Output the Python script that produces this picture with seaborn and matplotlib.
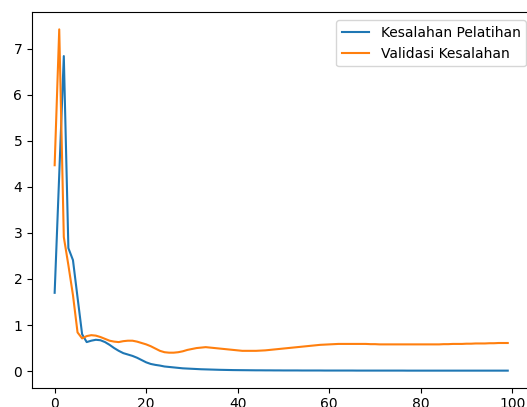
import matplotlib
matplotlib.use("Agg")
import matplotlib.pyplot as plt
import seaborn as sns
import numpy as np
import pandas as pd

epochs = list(range(100))

train_loss = [
    1.70, 4.27, 6.84, 2.67, 2.41, 1.60, 0.80, 0.63, 0.66, 0.68,
    0.67, 0.63, 0.57, 0.50, 0.44, 0.39, 0.36, 0.33, 0.29, 0.24,
    0.19, 0.155, 0.135, 0.12, 0.10, 0.09, 0.08, 0.07, 0.06, 0.055,
    0.05, 0.045, 0.04, 0.037, 0.034, 0.031, 0.028, 0.026, 0.024, 0.022,
    0.021, 0.020, 0.019, 0.018, 0.017, 0.017, 0.016, 0.016, 0.015, 0.015,
    0.014, 0.014, 0.014, 0.014, 0.013, 0.013, 0.013, 0.013, 0.013, 0.012,
    0.012, 0.012, 0.012, 0.012, 0.012, 0.012, 0.011, 0.011, 0.011, 0.011,
    0.011, 0.011, 0.011, 0.011, 0.011, 0.011, 0.011, 0.010, 0.010, 0.010,
    0.010, 0.010, 0.010, 0.010, 0.010, 0.010, 0.010, 0.010, 0.010, 0.010,
    0.010, 0.010, 0.010, 0.010, 0.010, 0.010, 0.010, 0.010, 0.010, 0.010,
]

val_loss = [
    4.47, 7.42, 2.91, 2.30, 1.65, 0.84, 0.71, 0.76, 0.78, 0.77,
    0.74, 0.70, 0.66, 0.64, 0.63, 0.65, 0.66, 0.66, 0.64, 0.61,
    0.58, 0.54, 0.49, 0.44, 0.41, 0.40, 0.40, 0.41, 0.43, 0.46,
    0.48, 0.50, 0.51, 0.52, 0.51, 0.50, 0.49, 0.48, 0.47, 0.46,
    0.45, 0.44, 0.44, 0.44, 0.44, 0.445, 0.45, 0.46, 0.47, 0.48,
    0.49, 0.50, 0.51, 0.52, 0.53, 0.54, 0.55, 0.56, 0.57, 0.575,
    0.58, 0.585, 0.59, 0.59, 0.59, 0.59, 0.59, 0.59, 0.59, 0.585,
    0.585, 0.58, 0.58, 0.58, 0.58, 0.58, 0.58, 0.58, 0.58, 0.58,
    0.58, 0.58, 0.58, 0.58, 0.58, 0.585, 0.585, 0.59, 0.59, 0.59,
    0.595, 0.595, 0.60, 0.60, 0.60, 0.605, 0.605, 0.61, 0.61, 0.61,
]

labels = ["Kesalahan Pelatihan", "Validasi Kesalahan"]

df = pd.DataFrame({"epoch": epochs, labels[0]: train_loss, labels[1]: val_loss})

W, H = 527, 407
fig = plt.figure(figsize=(W / 100, H / 100), dpi=100)
ax = fig.add_axes([32 / W, (H - 387.7) / H, (530.4 - 32) / W, (387.7 - 12.3) / H])

palette = sns.color_palette("tab10")
sns.lineplot(data=df, x="epoch", y=labels[0], ax=ax, color=palette[0], label=labels[0], linewidth=1.5)
sns.lineplot(data=df, x="epoch", y=labels[1], ax=ax, color=palette[1], label=labels[1], linewidth=1.5)

ax.set_xlabel("")
ax.set_ylabel("")
ax.set_xticks([0, 20, 40, 60, 80, 100])
ax.legend(loc="upper right", bbox_to_anchor=(1.005, 0.997))

fig.savefig("out.png", dpi=100)
